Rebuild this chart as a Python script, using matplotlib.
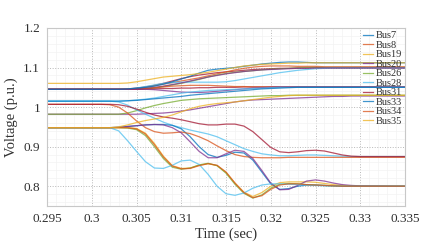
import numpy as np
import matplotlib
matplotlib.use("Agg")
import matplotlib.pyplot as plt
from matplotlib.ticker import MultipleLocator

plt.rcParams['font.family'] = ['Liberation Serif', 'DejaVu Serif']

# time axis (s)
time = [0.295, 0.301, 0.302, 0.303, 0.304, 0.305, 0.306, 0.307, 0.308, 0.309,
        0.310, 0.311, 0.312, 0.313, 0.314, 0.315, 0.316, 0.317, 0.318, 0.319,
        0.320, 0.321, 0.322, 0.323, 0.324, 0.325, 0.326, 0.327, 0.328, 0.329,
        0.330, 0.335]

# labelled buses
bus7 = [1.045, 1.045, 1.045, 1.045, 1.046, 1.048, 1.050, 1.053, 1.058, 1.064,
        1.071, 1.078, 1.086, 1.093, 1.096, 1.098, 1.100, 1.103, 1.106, 1.109,
        1.111, 1.113, 1.114, 1.114, 1.113, 1.112, 1.112, 1.112, 1.112, 1.112,
        1.112, 1.112]
bus8 = [1.007, 1.007, 1.006, 1.000, 0.985, 0.965, 0.948, 0.938, 0.934, 0.935,
        0.937, 0.933, 0.925, 0.915, 0.902, 0.890, 0.880, 0.875, 0.873, 0.872,
        0.872, 0.872, 0.873, 0.873, 0.873, 0.873, 0.873, 0.873, 0.873, 0.873,
        0.873, 0.873]
bus19 = [1.060, 1.060, 1.060, 1.060, 1.061, 1.064, 1.068, 1.072, 1.076, 1.078,
         1.080, 1.082, 1.085, 1.088, 1.092, 1.096, 1.100, 1.104, 1.106, 1.108,
         1.109, 1.110, 1.111, 1.111, 1.112, 1.112, 1.112, 1.112, 1.112, 1.112,
         1.112, 1.112]
bus20 = [0.948, 0.948, 0.948, 0.949, 0.951, 0.953, 0.955, 0.956, 0.955, 0.948,
         0.935, 0.912, 0.888, 0.872, 0.872, 0.882, 0.891, 0.888, 0.870, 0.840,
         0.808, 0.791, 0.792, 0.802, 0.813, 0.816, 0.813, 0.808, 0.804, 0.802,
         0.801, 0.800]
bus26 = [0.948, 0.948, 0.948, 0.948, 0.947, 0.943, 0.928, 0.900, 0.870, 0.848,
         0.843, 0.846, 0.854, 0.858, 0.852, 0.833, 0.805, 0.782, 0.770, 0.778,
         0.795, 0.805, 0.807, 0.806, 0.804, 0.803, 0.802, 0.801, 0.800, 0.800,
         0.800, 0.800]
bus28 = [0.948, 0.948, 0.948, 0.940, 0.915, 0.888, 0.862, 0.846, 0.845, 0.853,
         0.864, 0.866, 0.855, 0.830, 0.800, 0.781, 0.777, 0.783, 0.795, 0.803,
         0.806, 0.806, 0.805, 0.804, 0.803, 0.802, 0.801, 0.801, 0.800, 0.800,
         0.800, 0.800]
bus31 = [1.007, 1.007, 1.007, 1.006, 1.002, 0.995, 0.987, 0.980, 0.975, 0.972,
         0.968, 0.963, 0.958, 0.955, 0.955, 0.957, 0.957, 0.952, 0.938, 0.918,
         0.898, 0.887, 0.885, 0.887, 0.890, 0.891, 0.889, 0.884, 0.879, 0.876,
         0.875, 0.875]
bus33 = [1.015, 1.015, 1.015, 1.015, 1.016, 1.017, 1.019, 1.021, 1.023, 1.025,
         1.027, 1.030, 1.032, 1.034, 1.036, 1.038, 1.040, 1.042, 1.044, 1.046,
         1.047, 1.048, 1.049, 1.050, 1.050, 1.050, 1.050, 1.050, 1.050, 1.050,
         1.050, 1.050]
bus34 = [0.948, 0.948, 0.948, 0.948, 0.948, 0.945, 0.932, 0.905, 0.874, 0.851,
         0.844, 0.845, 0.852, 0.857, 0.853, 0.836, 0.808, 0.784, 0.771, 0.776,
         0.792, 0.803, 0.806, 0.806, 0.804, 0.803, 0.802, 0.801, 0.800, 0.800,
         0.800, 0.800]
bus35 = [0.948, 0.948, 0.948, 0.950, 0.955, 0.961, 0.966, 0.970, 0.974, 0.980,
         0.988, 0.996, 1.002, 1.006, 1.009, 1.011, 1.013, 1.016, 1.019, 1.022,
         1.025, 1.027, 1.029, 1.030, 1.030, 1.030, 1.030, 1.030, 1.030, 1.030,
         1.030, 1.030]

# remaining (unlabelled) buses
other_purple_a = [0.982, 0.982, 0.982, 0.982, 0.982, 0.982, 0.983, 0.984, 0.985, 0.987,
                  0.990, 0.993, 0.997, 1.001, 1.005, 1.009, 1.013, 1.016, 1.018, 1.019,
                  1.020, 1.021, 1.022, 1.023, 1.024, 1.025, 1.026, 1.027, 1.027, 1.028,
                  1.028, 1.028]
other_green_a = [0.982, 0.982, 0.982, 0.982, 0.985, 0.991, 0.998, 1.004, 1.009, 1.013,
                 1.017, 1.019, 1.021, 1.022, 1.023, 1.024, 1.025, 1.026, 1.027, 1.028,
                 1.029, 1.029, 1.030, 1.030, 1.030, 1.030, 1.030, 1.030, 1.030, 1.030,
                 1.030, 1.030]
other_red_a = [1.045, 1.045, 1.045, 1.045, 1.046, 1.048, 1.051, 1.055, 1.060, 1.066,
               1.072, 1.077, 1.081, 1.084, 1.087, 1.089, 1.091, 1.093, 1.095, 1.096,
               1.097, 1.098, 1.098, 1.099, 1.099, 1.099, 1.099, 1.099, 1.099, 1.099,
               1.099, 1.099]
other_orange_a = [1.045, 1.045, 1.045, 1.045, 1.045, 1.047, 1.050, 1.054, 1.058, 1.062,
                  1.066, 1.070, 1.074, 1.079, 1.084, 1.089, 1.094, 1.098, 1.101, 1.103,
                  1.104, 1.104, 1.104, 1.103, 1.103, 1.103, 1.102, 1.102, 1.102, 1.102,
                  1.102, 1.102]
other_green_b = [1.045, 1.045, 1.045, 1.045, 1.045, 1.045, 1.046, 1.048, 1.052, 1.056,
                 1.060, 1.065, 1.070, 1.076, 1.081, 1.085, 1.088, 1.090, 1.092, 1.094,
                 1.096, 1.097, 1.098, 1.099, 1.100, 1.100, 1.100, 1.100, 1.100, 1.100,
                 1.100, 1.100]
other_lblue_a = [1.045, 1.045, 1.045, 1.045, 1.045, 1.048, 1.052, 1.056, 1.060, 1.062,
                 1.063, 1.063, 1.063, 1.063, 1.063, 1.064, 1.067, 1.071, 1.075, 1.079,
                 1.083, 1.087, 1.090, 1.093, 1.095, 1.097, 1.098, 1.099, 1.099, 1.099,
                 1.099, 1.099]
other_purple_b = [1.045, 1.045, 1.045, 1.045, 1.045, 1.046, 1.048, 1.050, 1.053, 1.057,
                  1.061, 1.066, 1.071, 1.076, 1.080, 1.084, 1.087, 1.090, 1.092, 1.094,
                  1.095, 1.096, 1.097, 1.098, 1.098, 1.099, 1.099, 1.099, 1.099, 1.099,
                  1.099, 1.099]
other_red_b = [1.045, 1.045, 1.045, 1.045, 1.045, 1.045, 1.046, 1.046, 1.047, 1.047,
               1.048, 1.048, 1.049, 1.049, 1.050, 1.050, 1.050, 1.051, 1.051, 1.051,
               1.051, 1.051, 1.051, 1.051, 1.051, 1.051, 1.051, 1.051, 1.051, 1.051,
               1.051, 1.051]
other_orange_b = [1.045, 1.045, 1.045, 1.045, 1.045, 1.045, 1.047, 1.049, 1.051, 1.053,
                  1.054, 1.055, 1.055, 1.055, 1.054, 1.053, 1.052, 1.052, 1.051, 1.051,
                  1.051, 1.051, 1.051, 1.051, 1.051, 1.051, 1.051, 1.051, 1.051, 1.051,
                  1.051, 1.051]
other_purple_c = [1.045, 1.045, 1.045, 1.045, 1.045, 1.045, 1.045, 1.044, 1.042, 1.040,
                  1.038, 1.037, 1.037, 1.038, 1.040, 1.042, 1.044, 1.046, 1.048, 1.049,
                  1.050, 1.051, 1.051, 1.051, 1.051, 1.051, 1.051, 1.051, 1.051, 1.051,
                  1.051, 1.051]
other_lblue_b = [1.015, 1.015, 1.015, 1.015, 1.016, 1.018, 1.020, 1.023, 1.027, 1.031,
                 1.035, 1.038, 1.040, 1.042, 1.043, 1.044, 1.045, 1.046, 1.047, 1.048,
                 1.049, 1.050, 1.050, 1.050, 1.050, 1.050, 1.050, 1.050, 1.050, 1.050,
                 1.050, 1.050]
other_lblue_c = [1.015, 1.015, 1.015, 1.013, 1.005, 0.993, 0.982, 0.972, 0.962, 0.954,
                 0.948, 0.942, 0.937, 0.932, 0.925, 0.915, 0.905, 0.895, 0.888, 0.882,
                 0.879, 0.877, 0.877, 0.878, 0.879, 0.879, 0.878, 0.877, 0.876, 0.875,
                 0.875, 0.875]
other_blue_a = [0.948, 0.948, 0.948, 0.949, 0.951, 0.953, 0.955, 0.956, 0.956, 0.954,
                0.945, 0.925, 0.900, 0.880, 0.873, 0.878, 0.886, 0.884, 0.866, 0.836,
                0.806, 0.792, 0.794, 0.800, 0.803, 0.803, 0.802, 0.801, 0.800, 0.800,
                0.800, 0.800]
other_yellow_a = [0.948, 0.948, 0.948, 0.948, 0.948, 0.946, 0.934, 0.908, 0.876, 0.852,
                  0.845, 0.846, 0.853, 0.857, 0.852, 0.835, 0.808, 0.785, 0.774, 0.784,
                  0.800, 0.809, 0.811, 0.811, 0.811, 0.810, 0.807, 0.804, 0.802, 0.801,
                  0.800, 0.800]

labels = ['Bus7', 'Bus8', 'Bus19', 'Bus20', 'Bus26', 'Bus28', 'Bus31',
          'Bus33', 'Bus34', 'Bus35']

blue, orange, yellow = '#0072BD', '#D95319', '#EDB120'
purple, green, lblue, dred = '#7E2F8E', '#77AC30', '#4DBEEE', '#A2142F'

labelled = [(bus7, blue), (bus8, orange), (bus19, yellow), (bus20, purple),
            (bus26, green), (bus28, lblue), (bus31, dred), (bus33, blue),
            (bus34, orange), (bus35, yellow)]
others = [(other_purple_a, purple), (other_green_a, green), (other_red_a, dred),
          (other_orange_a, orange), (other_green_b, green), (other_lblue_a, lblue),
          (other_purple_b, purple), (other_red_b, dred), (other_orange_b, orange),
          (other_purple_c, purple), (other_lblue_b, lblue), (other_lblue_c, lblue),
          (other_blue_a, blue), (other_yellow_a, yellow)]

fig = plt.figure(figsize=(4.37, 2.52), dpi=100)
ax = fig.add_axes([0.1076, 0.1825, 0.8192, 0.7065])

for vals, c in others:
    ax.plot(time, vals, color=c, lw=0.9, alpha=0.75)
for (vals, c), lab in zip(labelled, labels):
    ax.plot(time, vals, color=c, lw=0.9, alpha=0.75, label=lab)

ax.set_xlim(0.295, 0.335)
ax.set_ylim(0.75, 1.2)
ax.set_xticks(np.arange(0.295, 0.3351, 0.005))
ax.set_xticklabels(['0.295', '0.3', '0.305', '0.31', '0.315', '0.32',
                    '0.325', '0.33', '0.335'])
ax.set_yticks([0.8, 0.9, 1.0, 1.1, 1.2])
ax.set_yticklabels(['0.8', '0.9', '1', '1.1', '1.2'])
ax.xaxis.set_minor_locator(MultipleLocator(0.001))
ax.yaxis.set_minor_locator(MultipleLocator(0.02))
ax.grid(which='major', linestyle=':', color='#b8b8b8', lw=0.7)
ax.grid(which='minor', linestyle='-', color='#f3f3f3', lw=0.5)
ax.set_axisbelow(True)
ax.tick_params(which='both', length=0, labelsize=9.5, colors='#303030', pad=5)
for s in ax.spines.values():
    s.set_color('#c8c8c8')
    s.set_linewidth(0.8)

ax.set_xlabel('Time (sec)', fontsize=10.5, color='#303030', labelpad=2)
ax.set_ylabel('Voltage (p.u.)', fontsize=10.5, color='#303030', labelpad=4)

leg = ax.legend(loc='upper right', fontsize=7.5, handlelength=1.0,
                handletextpad=0.2, borderpad=0.3, labelspacing=0.02,
                borderaxespad=0, fancybox=False, framealpha=0)
leg.get_frame().set_edgecolor('#c8c8c8')
leg.get_frame().set_linewidth(0.8)
for t in leg.get_texts():
    t.set_color('#303030')

fig.savefig('out.png', dpi=100)
